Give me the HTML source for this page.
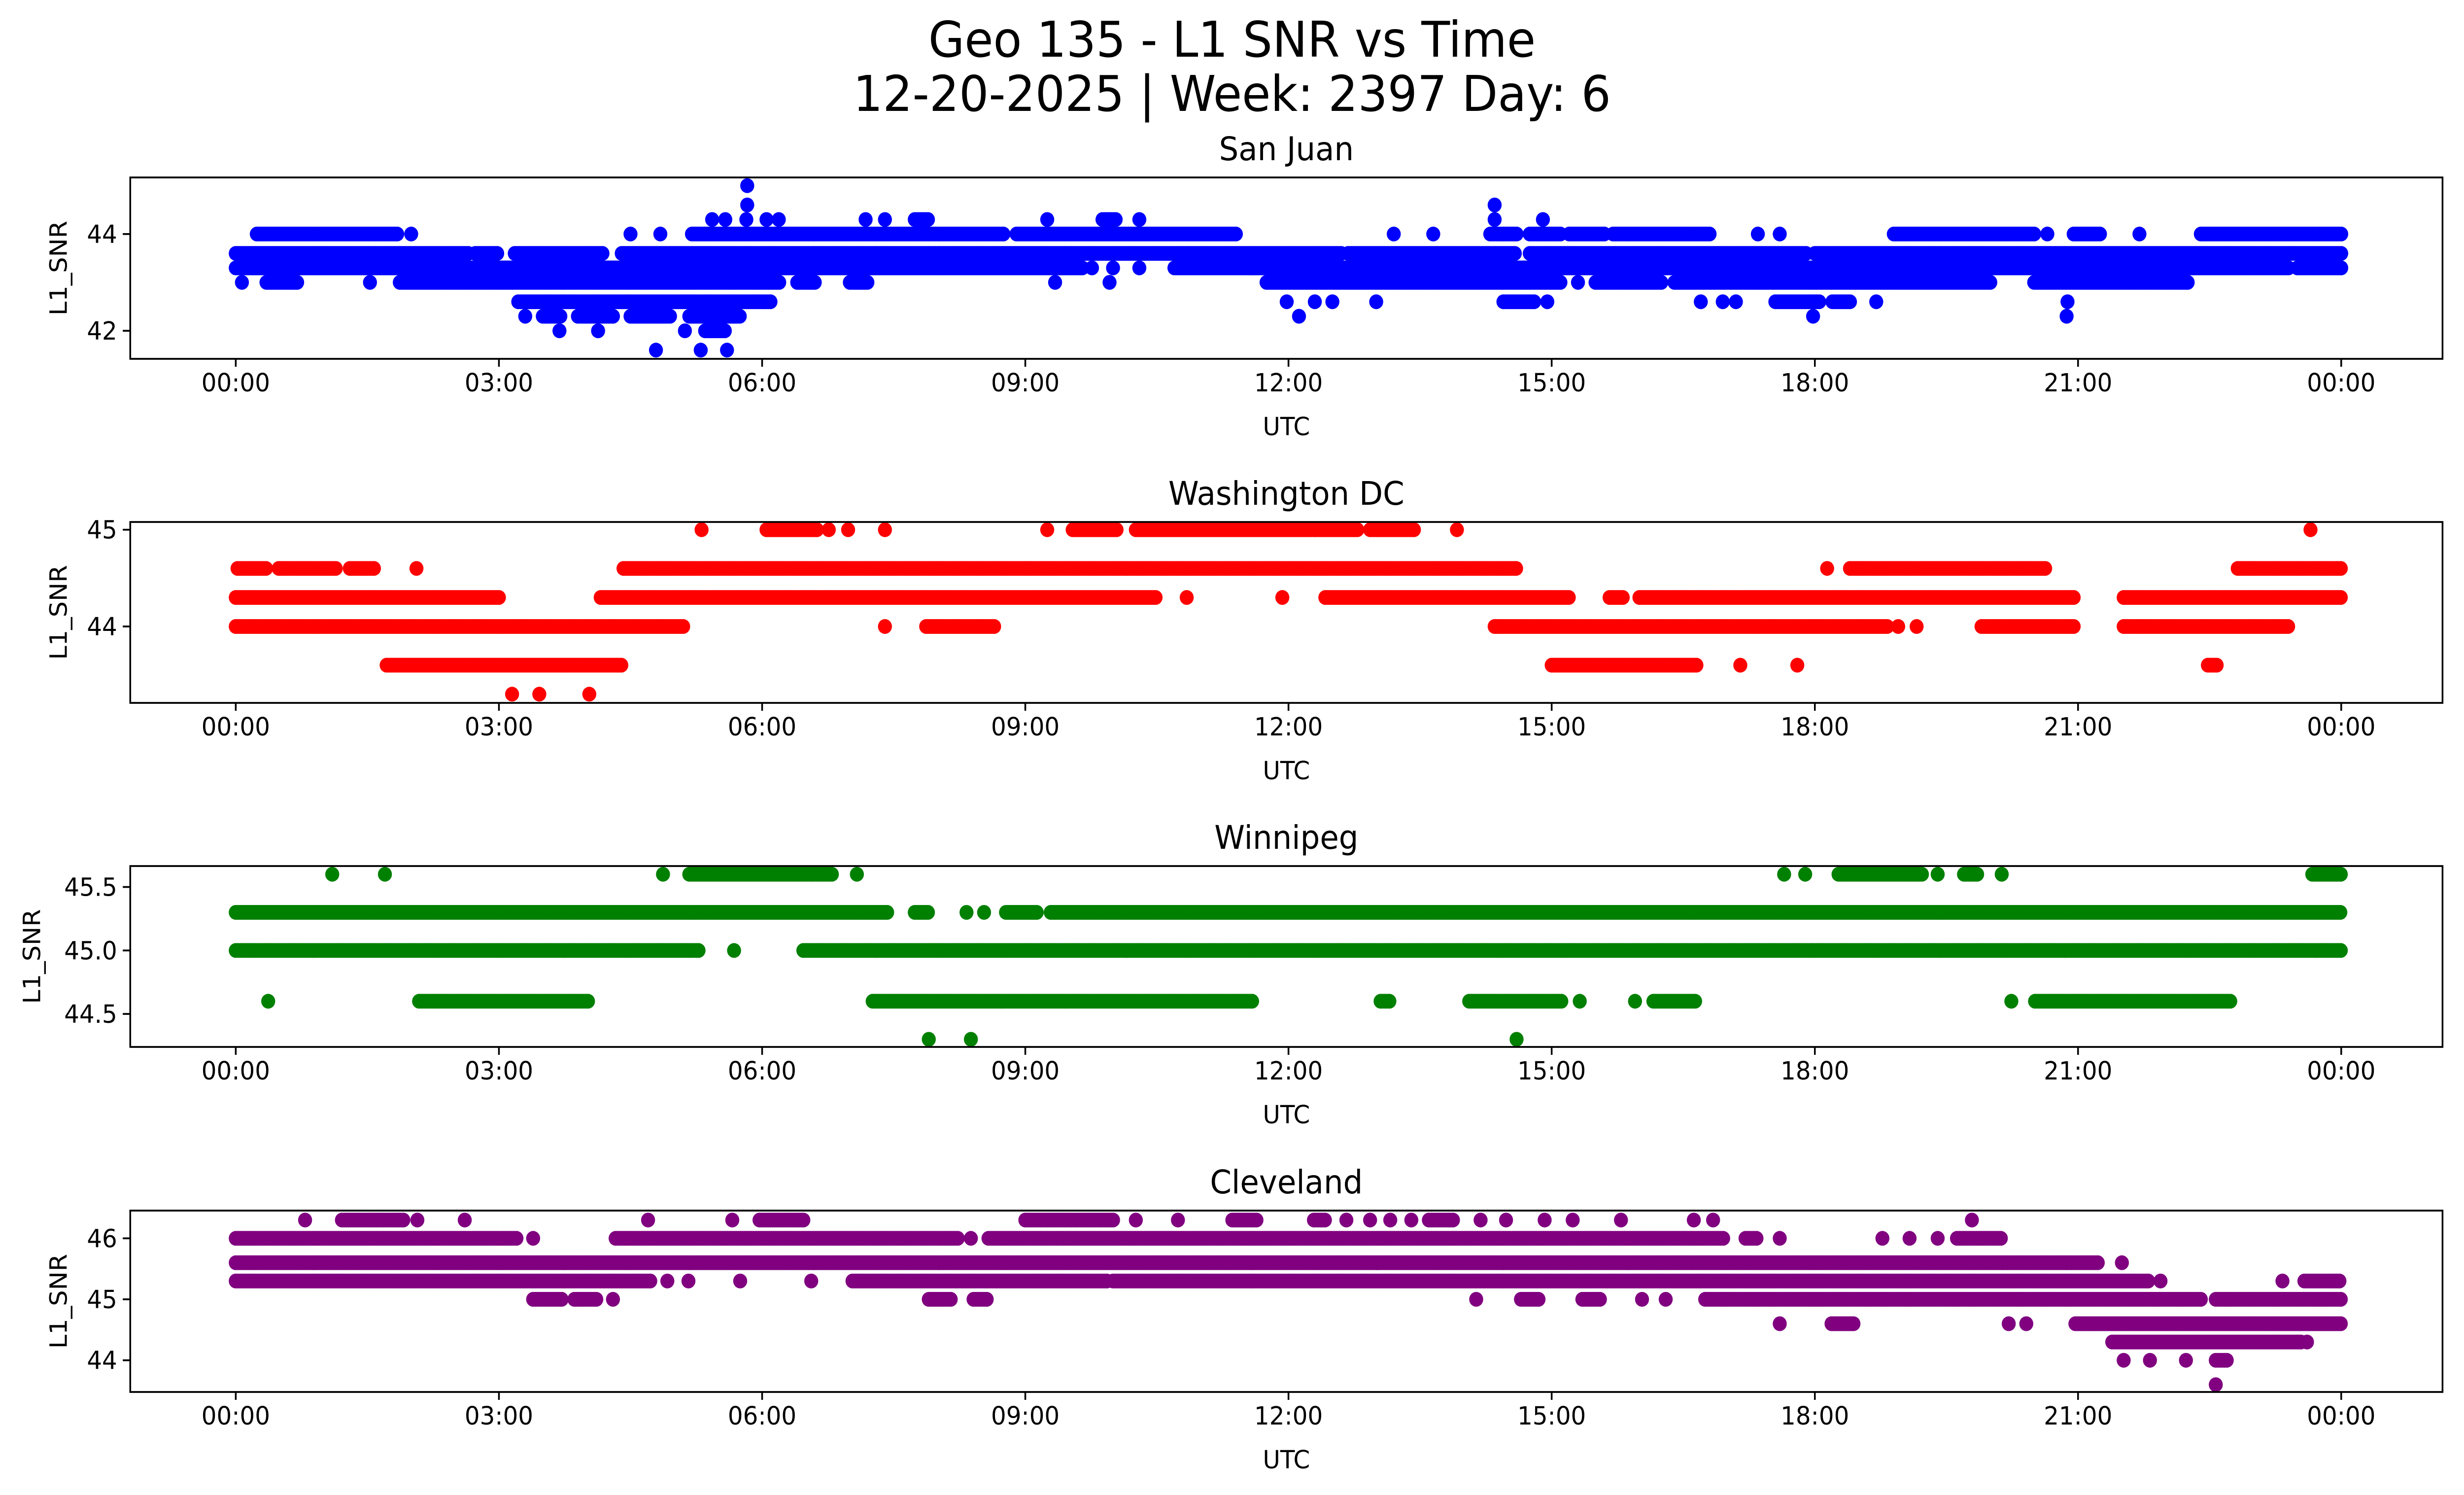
<!DOCTYPE html>
<html><head><meta charset="utf-8"><title>Geo 135 - L1 SNR vs Time</title>
<style>
html,body{margin:0;padding:0;background:#fff;overflow:hidden;width:100%;height:100%;}
svg{display:block;width:100vw;height:100vh;font-family:"DejaVu Sans","Liberation Sans",sans-serif;}
</style></head>
<body>
<svg id="chart" viewBox="0 0 5278 3033" preserveAspectRatio="none" xmlns="http://www.w3.org/2000/svg">
<rect width="5278" height="3033" fill="#fff"/>
<text x="2639" y="115" font-size="100" text-anchor="middle">Geo 135 - L1 SNR vs Time</text>
<text x="2639" y="225" font-size="100" text-anchor="middle">12-20-2025 | Week: 2397 Day: 6</text>
<g id="panels"></g>
</svg>
<script>
// x tick labels (hours)
const xTickHours = [0,3,6,9,12,15,18,21,24];
const xTickLabels = ["00:00","03:00","06:00","09:00","12:00","15:00","18:00","21:00","00:00"];
const panelTitles = ["San Juan","Washington DC","Winnipeg","Cleveland"];
const panelColors = ["#0000ff","#ff0000","#008000","#800080"];
const yTicks1 = [42,44];
const yTicks2 = [44,45];
const yTicks3 = [44.5,45.0,45.5];
const yTicks4 = [44,45,46];
const yTickLabels1 = ["42","44"];
const yTickLabels2 = ["44","45"];
const yTickLabels3 = ["44.5","45.0","45.5"];
const yTickLabels4 = ["44","45","46"];
// data: runs of observations [startHour, endHour, SNR]; single observations have start==end
const sanJuan = [
[0.24,1.84,44.0],[2.0,2.0,44.0],[4.5,4.5,44.0],[4.84,4.84,44.0],[5.2,8.75,44.0],[8.9,11.4,44.0],[13.2,13.2,44.0],[13.65,13.65,44.0],[14.3,14.6,44.0],[14.75,15.1,44.0],[15.2,15.6,44.0],[15.7,16.8,44.0],[17.35,17.35,44.0],[17.6,17.6,44.0],[18.9,20.5,44.0],[20.65,20.65,44.0],[20.95,21.25,44.0],[21.7,21.7,44.0],[22.4,24,44.0],
[5.43,5.43,44.3],[5.58,5.58,44.3],[5.82,5.82,44.3],[6.05,6.05,44.3],[6.19,6.19,44.3],[7.18,7.18,44.3],[7.4,7.4,44.3],[7.74,7.9,44.3],[9.25,9.25,44.3],[9.88,10.04,44.3],[10.3,10.3,44.3],[14.35,14.35,44.3],[14.9,14.9,44.3],
[5.83,5.83,44.6],[14.35,14.35,44.6],[5.83,5.83,45.0],
[0,2.65,43.6],[2.73,3.0,43.6],[3.18,4.2,43.6],[4.4,12.6,43.6],[12.68,14.6,43.6],[14.75,17.9,43.6],[18.0,24,43.6],
[0,9.67,43.3],[9.76,9.76,43.3],[10.0,10.0,43.3],[10.3,10.3,43.3],[10.7,23.4,43.3],[23.5,24,43.3],
[0.07,0.07,43.0],[0.35,0.7,43.0],[1.53,1.53,43.0],[1.87,6.2,43.0],[6.4,6.6,43.0],[7.0,7.2,43.0],[9.34,9.34,43.0],[9.96,9.96,43.0],[11.75,15.1,43.0],[15.3,15.3,43.0],[15.5,16.25,43.0],[16.4,20.0,43.0],[20.5,22.25,43.0],
[3.22,6.1,42.6],[11.98,11.98,42.6],[12.3,12.3,42.6],[12.5,12.5,42.6],[13.0,13.0,42.6],[14.45,14.8,42.6],[14.95,14.95,42.6],[16.7,16.7,42.6],[16.95,16.95,42.6],[17.1,17.1,42.6],[17.55,18.05,42.6],[18.2,18.4,42.6],[18.7,18.7,42.6],[20.88,20.88,42.6],
[3.3,3.3,42.3],[3.5,3.7,42.3],[3.9,4.3,42.3],[4.5,4.95,42.3],[5.17,5.75,42.3],[12.12,12.12,42.3],[17.98,17.98,42.3],[20.87,20.87,42.3],
[3.69,3.69,42.0],[4.13,4.13,42.0],[5.12,5.12,42.0],[5.35,5.58,42.0],
[4.79,4.79,41.6],[5.3,5.3,41.6],[5.6,5.6,41.6]];
const washingtonDC = [
[5.31,5.31,45.0],[6.05,6.64,45.0],[6.76,6.76,45.0],[6.98,6.98,45.0],[7.4,7.4,45.0],[9.25,9.25,45.0],[9.54,10.06,45.0],[10.26,12.8,45.0],[12.93,13.43,45.0],[13.92,13.92,45.0],[23.65,23.65,45.0],
[0.02,0.35,44.6],[0.49,1.16,44.6],[1.3,1.58,44.6],[2.06,2.06,44.6],[4.42,14.6,44.6],[18.14,18.14,44.6],[18.4,20.63,44.6],[22.82,24,44.6],
[0,3.0,44.3],[4.16,10.5,44.3],[10.84,10.84,44.3],[11.93,11.93,44.3],[12.42,15.2,44.3],[15.66,15.83,44.3],[16.0,20.97,44.3],[21.52,24,44.3],
[0,5.12,44.0],[7.4,7.4,44.0],[7.87,8.66,44.0],[14.35,18.83,44.0],[18.95,18.95,44.0],[19.16,19.16,44.0],[19.9,20.97,44.0],[21.52,23.41,44.0],
[1.72,4.4,43.6],[15.0,16.67,43.6],[17.15,17.15,43.6],[17.8,17.8,43.6],[22.48,22.6,43.6],
[3.15,3.15,43.3],[3.46,3.46,43.3],[4.03,4.03,43.3]];
const winnipeg = [
[1.1,1.1,45.6],[1.7,1.7,45.6],[4.87,4.87,45.6],[5.17,6.81,45.6],[7.08,7.08,45.6],[17.65,17.65,45.6],[17.89,17.89,45.6],[18.27,19.23,45.6],[19.4,19.4,45.6],[19.7,19.87,45.6],[20.13,20.13,45.6],[23.67,24,45.6],
[0,7.43,45.3],[7.74,7.9,45.3],[8.33,8.33,45.3],[8.53,8.53,45.3],[8.78,9.15,45.3],[9.29,24,45.3],
[0,5.29,45.0],[5.68,5.68,45.0],[6.47,24,45.0],
[0.37,0.37,44.6],[2.09,4.03,44.6],[7.26,11.6,44.6],[13.05,13.17,44.6],[14.06,15.12,44.6],[15.32,15.32,44.6],[15.95,15.95,44.6],[16.16,16.64,44.6],[20.24,20.24,44.6],[20.51,22.74,44.6],
[7.9,7.9,44.3],[8.38,8.38,44.3],[14.6,14.6,44.3]];
const cleveland = [
[0.79,0.79,46.3],[1.21,1.92,46.3],[2.07,2.07,46.3],[2.61,2.61,46.3],[4.7,4.7,46.3],[5.66,5.66,46.3],[5.97,6.47,46.3],[9.0,10.0,46.3],[10.26,10.26,46.3],[10.74,10.74,46.3],[11.36,11.65,46.3],[12.29,12.42,46.3],[12.66,12.66,46.3],[12.93,12.93,46.3],[13.16,13.16,46.3],[13.4,13.4,46.3],[13.6,13.89,46.3],[14.19,14.19,46.3],[14.48,14.48,46.3],[14.92,14.92,46.3],[15.24,15.24,46.3],[15.79,15.79,46.3],[16.62,16.62,46.3],[16.84,16.84,46.3],[19.79,19.79,46.3],
[0,3.22,46.0],[3.39,3.39,46.0],[4.33,8.24,46.0],[8.38,8.38,46.0],[8.58,16.97,46.0],[17.21,17.35,46.0],[17.6,17.6,46.0],[18.77,18.77,46.0],[19.08,19.08,46.0],[19.4,19.4,46.0],[19.62,20.13,46.0],
[0,21.23,45.6],[21.5,21.5,45.6],
[0,4.74,45.3],[4.92,4.92,45.3],[5.16,5.16,45.3],[5.75,5.75,45.3],[6.56,6.56,45.3],[7.03,9.93,45.3],[10.0,21.81,45.3],[21.94,21.94,45.3],[23.33,23.33,45.3],[23.58,24,45.3],
[3.39,3.73,45.0],[3.86,4.11,45.0],[4.3,4.3,45.0],[7.9,8.16,45.0],[8.41,8.58,45.0],[14.14,14.14,45.0],[14.65,14.85,45.0],[15.35,15.57,45.0],[16.03,16.03,45.0],[16.3,16.3,45.0],[16.75,22.4,45.0],[22.57,24,45.0],
[17.6,17.6,44.6],[18.19,18.44,44.6],[20.21,20.21,44.6],[20.41,20.41,44.6],[20.97,24,44.6],
[21.39,23.55,44.3],[23.61,23.61,44.3],
[21.52,21.52,44.0],[21.82,21.82,44.0],[22.23,22.23,44.0],[22.57,22.7,44.0],
[22.57,22.57,43.6]];
const allSeries = [sanJuan, washingtonDC, winnipeg, cleveland];
const allYTicks = [yTicks1,yTicks2,yTicks3,yTicks4];
const allYTickLabels = [yTickLabels1,yTickLabels2,yTickLabels3,yTickLabels4];

const NS = "http://www.w3.org/2000/svg";
const L = 279, R = 5232;
const panelsGeom = [
  {top:360, bottom:728, vmin:41.42, vmax:45.17, ylabX:125},
  {top:1059, bottom:1426, vmin:43.21, vmax:45.08, ylabX:125},
  {top:1757, bottom:2124, vmin:44.24, vmax:45.665, ylabX:68},
  {top:2456, bottom:2824, vmin:43.48, vmax:46.455, ylabX:125}
];
const xScale = h => 505 + h * (4510/24);
const step = 0.025;
const root = document.getElementById('panels');
function mk(tag, attrs){const e=document.createElementNS(NS,tag);for(const k in attrs)e.setAttribute(k,attrs[k]);return e;}

panelsGeom.forEach((g,pi)=>{
  const yScale = v => g.bottom - (v - g.vmin)/(g.vmax - g.vmin)*(g.bottom - g.top);
  const grp = mk('g',{});
  
  
  root.appendChild(grp);
  const t = mk('text',{x:(L+R)/2, y:g.top-35, 'font-size':66, 'text-anchor':'middle'});
  
  
  t.textContent = panelTitles[pi];
  grp.appendChild(t);
  const clip = mk('clipPath',{id:'clip'+pi});
  clip.appendChild(mk('rect',{x:L,y:g.top,width:R-L,height:g.bottom-g.top}));
  grp.appendChild(clip);
  const pts = mk('g',{fill:panelColors[pi],'clip-path':'url(#clip'+pi+')'});
  
  
  grp.appendChild(pts);
  allSeries[pi].forEach(seg=>{
    const [s,e,v] = seg;
    const cy = yScale(v);
    for(let h=s; h<=e+1e-9; h+=step){
      const c = mk('circle',{cx:xScale(h).toFixed(1), cy:cy.toFixed(1), r:15});
      
      
      pts.appendChild(c);
    }
  });
  const frame = mk('rect',{x:L,y:g.top,width:R-L,height:g.bottom-g.top,fill:'none',stroke:'#000','stroke-width':3.7});
  
  
  grp.appendChild(frame);
  xTickHours.forEach((h,i)=>{
    const x = xScale(h);
    const tk = mk('line',{x1:x,x2:x,y1:g.bottom,y2:g.bottom+16,stroke:'#000','stroke-width':3.7});
    
    
    grp.appendChild(tk);
    const lb = mk('text',{x:x, y:g.bottom+66, 'font-size':51, 'text-anchor':'middle'});
    
    
    lb.textContent = xTickLabels[i];
    grp.appendChild(lb);
  });
  const xl = mk('text',{x:(L+R)/2, y:g.bottom+155, 'font-size':51, 'text-anchor':'middle'});
  
  
  xl.textContent = 'UTC';
  grp.appendChild(xl);
  allYTicks[pi].forEach((v,i)=>{
    const y = yScale(v);
    const tk = mk('line',{x1:L-16,x2:L,y1:y,y2:y,stroke:'#000','stroke-width':3.7});
    
    
    grp.appendChild(tk);
    const lb = mk('text',{x:L-28, y:y+18, 'font-size':51, 'text-anchor':'end'});
    
    
    lb.textContent = allYTickLabels[pi][i];
    grp.appendChild(lb);
  });
  const cyMid = (g.top+g.bottom)/2;
  const yl = mk('text',{x:0,y:0,'font-size':51,'text-anchor':'middle',transform:'translate('+(g.ylabX+18)+','+cyMid+') rotate(-90)'});
  
  
  yl.textContent = 'L1_SNR';
  grp.appendChild(yl);
});
</script>
</body></html>
